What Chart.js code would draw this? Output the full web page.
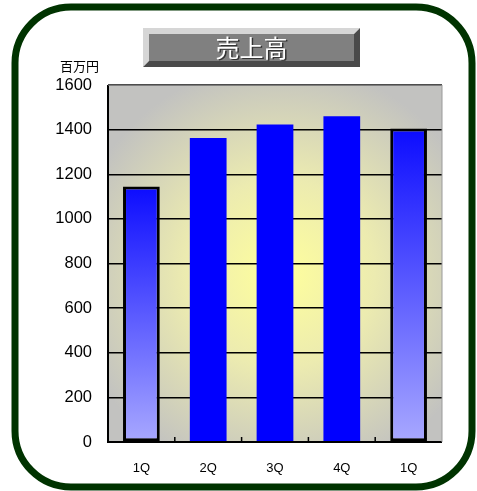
<!DOCTYPE html>
<html>
<head>
<meta charset="utf-8">
<script src="https://cdn.jsdelivr.net/npm/chart.js@4/dist/chart.umd.min.js"></script>
<style>
  html, body { margin: 0; padding: 0; background: #fff; }
  #box { width: 477px; height: 491px; }
</style>
</head>
<body>
<div id="box"><canvas id="sales"></canvas></div>
<script>
const quarters = ["1Q", "2Q", "3Q", "4Q", "1Q"];
const sales = [1145, 1362, 1423, 1460, 1405];
const highlighted = [true, false, false, false, true];
const yTicks = { min: 0, max: 1600, step: 200 };
const chartTitle = "売上高";
const unitLabel = "百万円";

const jpFont = "'Noto Sans CJK JP', 'Liberation Sans', sans-serif";

function barFill(context) {
  const i = context.dataIndex;
  if (!highlighted[i]) return "#0000ff";
  const chart = context.chart;
  const area = chart.chartArea;
  if (!area) return "#6060ff";
  const y = chart.scales.y;
  const top = y.getPixelForValue(sales[i]);
  const g = chart.ctx.createLinearGradient(0, top, 0, area.bottom);
  g.addColorStop(0, "#0c0cff");
  g.addColorStop(1, "#a8a8ff");
  return g;
}

const framePlugin = {
  id: "frame",
  beforeDraw(chart) {
    const ctx = chart.ctx;
    const a = chart.chartArea;
    ctx.save();
    // plot background
    const cx = (a.left + a.right) / 2 + 5, cy = (a.top + a.bottom) / 2 + 10;
    const rg = ctx.createRadialGradient(cx, cy, 0, cx, cy, 210);
    rg.addColorStop(0, "#ffff9c");
    rg.addColorStop(0.45, "#ecebb0");
    rg.addColorStop(1, "#c2c2c0");
    ctx.fillStyle = rg;
    ctx.fillRect(a.left, a.top, a.right - a.left, a.bottom - a.top);
    ctx.restore();
  },
  afterDatasetsDraw(chart) {
    const ctx = chart.ctx;
    const a = chart.chartArea;
    ctx.save();
    // plot border
    ctx.strokeStyle = "#000";
    ctx.lineWidth = 2;
    ctx.beginPath();
    ctx.moveTo(a.left, a.top);
    ctx.lineTo(a.left, a.bottom);
    ctx.lineTo(a.right, a.bottom);
    ctx.stroke();
    ctx.strokeStyle = "#9a9a9a";
    ctx.lineWidth = 1;
    ctx.beginPath();
    ctx.moveTo(a.left, a.top);
    ctx.lineTo(a.right, a.top);
    ctx.lineTo(a.right, a.bottom);
    ctx.stroke();
    // small category ticks pointing up
    ctx.strokeStyle = "#000";
    ctx.lineWidth = 1.5;
    const n = quarters.length;
    const w = (a.right - a.left) / n;
    for (let k = 1; k < n; k++) {
      const x = a.left + w * k;
      ctx.beginPath();
      ctx.moveTo(x, a.bottom);
      ctx.lineTo(x, a.bottom - 5);
      ctx.stroke();
    }
    ctx.restore();
  },
  afterDraw(chart) {
    const ctx = chart.ctx;
    ctx.save();
    // outer rounded frame
    ctx.strokeStyle = "#003300";
    ctx.lineWidth = 7;
    ctx.beginPath();
    ctx.roundRect(15, 7, 457, 480, 56);
    ctx.stroke();

    // title box with bevel
    const x0 = 143, y0 = 28, x1 = 360, y1 = 67, b = 6;
    ctx.fillStyle = "#d6d6d6";
    ctx.beginPath();
    ctx.moveTo(x0, y0); ctx.lineTo(x1, y0); ctx.lineTo(x1 - b, y0 + b);
    ctx.lineTo(x0 + b, y0 + b); ctx.lineTo(x0 + b, y1 - b); ctx.lineTo(x0, y1);
    ctx.closePath(); ctx.fill();
    ctx.fillStyle = "#4a4a4a";
    ctx.beginPath();
    ctx.moveTo(x1, y1); ctx.lineTo(x0, y1); ctx.lineTo(x0 + b, y1 - b);
    ctx.lineTo(x1 - b, y1 - b); ctx.lineTo(x1 - b, y0 + b); ctx.lineTo(x1, y0);
    ctx.closePath(); ctx.fill();
    ctx.fillStyle = "#808080";
    ctx.fillRect(x0 + b, y0 + b, x1 - x0 - 2 * b, y1 - y0 - 2 * b);

    ctx.font = "24px " + jpFont;
    ctx.textAlign = "center";
    ctx.textBaseline = "middle";
    ctx.fillStyle = "#333";
    ctx.fillText(chartTitle, (x0 + x1) / 2 + 1.5, (y0 + y1) / 2 + 1.5);
    ctx.fillStyle = "#fff";
    ctx.fillText(chartTitle, (x0 + x1) / 2, (y0 + y1) / 2);

    // unit label
    ctx.font = "13px " + jpFont;
    ctx.fillStyle = "#000";
    ctx.textAlign = "left";
    ctx.fillText(unitLabel, 60, 66);
    ctx.restore();
  }
};

new Chart(document.getElementById("sales"), {
  type: "bar",
  data: {
    labels: quarters,
    datasets: [
      {
        label: chartTitle,
        data: sales,
        backgroundColor: barFill,
        borderColor: "#000",
        borderWidth: (c) => (highlighted[c.dataIndex] ? 3 : 0),
        borderSkipped: false,
        barPercentage: 0.55,
        categoryPercentage: 1,
      },
    ],
  },
  options: {
    responsive: true,
    maintainAspectRatio: false,
    animation: false,
    layout: { padding: { top: 85, right: 35, left: 0, bottom: 0 } },
    plugins: {
      legend: { display: false },
      title: { display: false },
      tooltip: { enabled: false },
    },
    scales: {
      x: {
        grid: { display: false, drawTicks: false },
        border: { display: false },
        ticks: {
          color: "#000",
          padding: 19,
          font: { family: "'Liberation Sans', Arial, sans-serif", size: 13 },
        },
        afterFit: (s) => { s.height = 49; },
      },
      y: {
        min: yTicks.min,
        max: yTicks.max,
        grid: { color: "#000", lineWidth: 1.5, drawTicks: false },
        border: { display: false },
        ticks: {
          stepSize: yTicks.step,
          color: "#000",
          padding: 16,
          callback: (v) => String(v),
          font: { family: "'Liberation Sans', Arial, sans-serif", size: 16.5 },
        },
        afterFit: (s) => { s.width = 108; },
      },
    },
  },
  plugins: [framePlugin],
});
</script>
</body>
</html>
